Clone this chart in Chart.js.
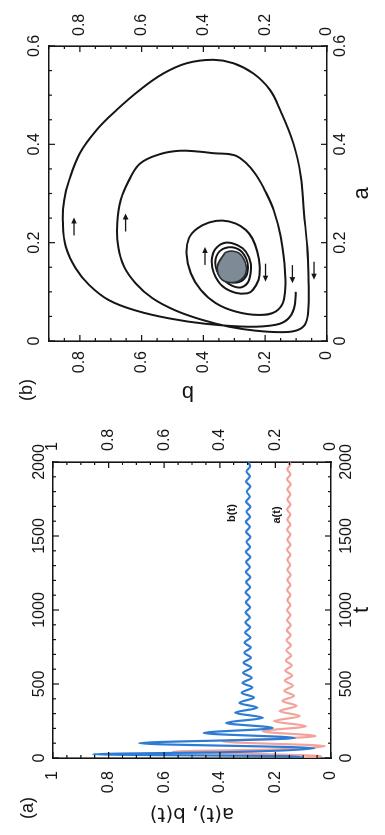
<!DOCTYPE html>
<html>
<head>
<meta charset="utf-8">
<script src="https://cdn.jsdelivr.net/npm/chart.js@4.4.1/dist/chart.umd.min.js"></script>
<style>
  html, body { margin:0; padding:0; background:#fff; width:385px; height:835px; overflow:hidden; }
  #wrap { position:absolute; left:0; top:0; width:835px; height:385px; transform-origin:0 0; transform:translate(0,835px) rotate(-90deg); background:#fff; }
  #ca { position:absolute; left:0; top:0; }
  #cb { position:absolute; left:420px; top:0; }
</style>
</head>
<body>
<div id="wrap">
  <canvas id="ca" width="420" height="385"></canvas>
  <canvas id="cb" width="415" height="385"></canvas>
</div>
<script>
// ---------- tick labels ----------
const tTickLabels  = ['0','500','1000','1500','2000'];
const abTickLabels = ['0','0.2','0.4','0.6','0.8','1'];
const aAxisLabels  = ['0','0.2','0.4','0.6'];
const bAxisLabels  = ['0','0.2','0.4','0.6','0.8'];

// ---------- panel (a): time series ----------
const bTime  = [0,12,25,40,66,100,135,169,203,237,272,306,340,372,409,440,477,507,542,576,610,644,678,712,746,780,814,848,882,916,950,984,1018,1052,1086,1120,1154,1188,1222,1256,1290,1324,1358,1392,1426,1460,1494,1528,1562,1596,1630,1664,1698,1732,1766,1800,1834,1868,1902,1936,1970,2000];
const bValue = [0.10,0.16,0.856,0.36,0.06,0.69,0.13,0.458,0.21,0.377,0.245,0.345,0.265,0.33,0.277,0.322,0.283,0.318,0.285,0.316,0.287,0.314,0.288,0.312,0.289,0.311,0.29,0.309,0.291,0.308,0.292,0.307,0.291,0.306,0.292,0.307,0.291,0.305,0.290,0.306,0.292,0.305,0.29,0.306,0.291,0.304,0.290,0.305,0.292,0.306,0.291,0.304,0.290,0.305,0.292,0.303,0.290,0.305,0.292,0.304,0.291,0.298];
const aTime  = [0,12,25,43,58,80,112,148,180,215,249,283,317,352,386,420,454,489,523,557,591,625,659,693,727,761,795,829,863,897,931,965,999,1033,1067,1101,1135,1169,1203,1237,1271,1305,1339,1373,1407,1441,1475,1509,1543,1577,1611,1645,1679,1713,1747,1781,1815,1849,1883,1917,1951,1985,2000];
const aValue = [0.10,0.035,0.22,0.568,0.2,0.022,0.39,0.055,0.245,0.09,0.205,0.112,0.185,0.124,0.175,0.133,0.168,0.137,0.166,0.140,0.164,0.141,0.162,0.143,0.161,0.144,0.160,0.145,0.159,0.145,0.158,0.146,0.158,0.146,0.157,0.146,0.158,0.146,0.157,0.145,0.157,0.147,0.157,0.146,0.158,0.146,0.157,0.146,0.158,0.146,0.157,0.146,0.158,0.146,0.157,0.146,0.157,0.145,0.158,0.146,0.157,0.146,0.151];
const seriesLabelText = ['b(t)','a(t)'];
const seriesLabelT    = [1655,1642];
const seriesLabelV    = [0.356,0.195];

// ---------- panel (b): phase plane trajectory ----------
const phaseA = [0.100,0.066,0.044,0.033,0.029,0.035,0.046,0.062,0.083,0.114,0.148,0.192,0.239,0.287,0.327,0.382,0.429,0.470,0.511,0.544,0.565,0.572,0.565,0.544,0.511,0.470,0.402,0.335,0.260,0.192,0.124,0.070,0.036,0.022,0.018,0.021,
  0.029,0.043,0.062,0.087,0.117,0.151,0.192,0.239,0.287,0.327,0.361,0.380,0.387,0.385,0.382,0.378,0.362,0.338,0.305,0.265,0.212,0.140,0.085,0.060,0.053,
  0.060,0.077,0.104,0.138,0.178,0.209,0.229,0.241,0.245,0.239,0.226,0.209,0.182,0.151,0.124,0.104,0.097,
  0.098,0.112,0.138,0.165,0.188,0.200,0.195,0.182,0.158,0.131,0.114,0.109,
  0.121,0.144,0.172,0.189,0.187,0.168,0.141,0.122,0.120,0.132];
const phaseB = [0.101,0.107,0.128,0.166,0.253,0.393,0.511,0.619,0.706,0.770,0.814,0.846,0.855,0.851,0.835,0.800,0.746,0.681,0.605,0.530,0.454,0.368,0.303,0.238,0.185,0.152,0.109,0.085,0.0745,0.064,0.060,0.060,0.069,0.096,0.145,0.231,
  0.317,0.404,0.490,0.565,0.619,0.657,0.676,0.679,0.668,0.641,0.605,0.541,0.476,0.411,0.368,0.300,0.262,0.230,0.200,0.172,0.150,0.136,0.139,0.166,0.220,
  0.296,0.360,0.409,0.441,0.455,0.447,0.420,0.382,0.339,0.296,0.263,0.242,0.226,0.218,0.222,0.240,0.258,
  0.296,0.339,0.366,0.373,0.360,0.328,0.290,0.263,0.247,0.249,0.263,0.290,
  0.328,0.357,0.358,0.330,0.288,0.262,0.257,0.277,0.315,0.342];
const blobA = [0.180,0.183,0.178,0.160,0.140,0.124,0.119,0.128,0.152,0.180];
const blobB = [0.330,0.310,0.283,0.265,0.262,0.280,0.315,0.345,0.355,0.330];
const arrowA   = [0.233,0.241,0.173,0.139,0.136,0.143];
const arrowB   = [0.819,0.652,0.395,0.199,0.112,0.042];
const arrowDir = [1,1,1,-1,-1,-1];

// ---------- helpers ----------
const pts = (xs, ys) => xs.map((x, i) => ({x: x, y: ys[i]}));
const FAMILY = '"Liberation Sans", Arial, sans-serif';
const TICK_FONT = {family:FAMILY, size:16};
const INK = '#151515';

function axis(pos, min, max, labels, size, pad, title) {
  const vals = labels.map(parseFloat);
  const horiz = (pos === 'top' || pos === 'bottom');
  return {
    type:'linear', position:pos, min:min, max:max,
    grid:{display:false, drawTicks:false},
    border:{display:true, color:INK, width:1.6},
    ticks:{autoSkip:false, maxRotation:0, minRotation:0, padding:pad, color:INK, font:TICK_FONT,
      callback:(v) => { const i = vals.findIndex(t => Math.abs(t - v) < 1e-9); return i >= 0 ? labels[i] : ''; }},
    afterBuildTicks:(s) => { s.ticks = vals.map(v => ({value:v})); },
    afterFit:(s) => { if (horiz) s.height = size; else s.width = size; },
    title: title || {display:false}
  };
}

const inwardTicks = {
  id:'inwardTicks',
  afterDatasetsDraw(chart, args, o) {
    const {ctx, chartArea:ca, scales} = chart;
    ctx.save();
    ctx.strokeStyle = INK; ctx.lineWidth = 1.2;
    const run = (scale, step, major, horiz) => {
      const n = Math.round((scale.max - scale.min) / step);
      for (let i = 0; i <= n; i++) {
        const v = scale.min + i * step;
        const r = v / major;
        const len = Math.abs(r - Math.round(r)) < 1e-6 ? 6 : 3;
        const p = scale.getPixelForValue(v);
        ctx.beginPath();
        if (horiz) {
          ctx.moveTo(p, ca.bottom); ctx.lineTo(p, ca.bottom - len);
          ctx.moveTo(p, ca.top); ctx.lineTo(p, ca.top + len);
        } else {
          ctx.moveTo(ca.left, p); ctx.lineTo(ca.left + len, p);
          ctx.moveTo(ca.right, p); ctx.lineTo(ca.right - len, p);
        }
        ctx.stroke();
      }
    };
    run(scales.x, o.x[0], o.x[1], true);
    run(scales.y, o.y[0], o.y[1], false);
    ctx.restore();
  }
};

const notes = {
  id:'notes',
  afterDraw(chart, args, o) {
    const {ctx, scales} = chart;
    ctx.save();
    ctx.fillStyle = INK;
    ctx.textAlign = 'center'; ctx.textBaseline = 'middle';
    if (o.panel) {
      ctx.font = '18px ' + FAMILY;
      ctx.fillText(o.panel.text, o.panel.x, o.panel.y);
    }
    if (o.labels) {
      ctx.font = 'bold 11px ' + FAMILY;
      o.labels.text.forEach((t, i) => {
        ctx.fillText(t, scales.x.getPixelForValue(o.labels.x[i]), scales.y.getPixelForValue(o.labels.y[i]));
      });
    }
    if (o.arrows) {
      ctx.strokeStyle = INK; ctx.lineWidth = 1.3;
      o.arrows.a.forEach((a, i) => {
        const cx = scales.x.getPixelForValue(a), cy = scales.y.getPixelForValue(o.arrows.b[i]);
        const d = o.arrows.dir[i], half = 9;
        const tip = cx + d * half;
        ctx.beginPath(); ctx.moveTo(cx - d * half, cy); ctx.lineTo(tip - d * 3, cy); ctx.stroke();
        ctx.beginPath(); ctx.moveTo(tip, cy); ctx.lineTo(tip - d * 6, cy - 2.8); ctx.lineTo(tip - d * 6, cy + 2.8); ctx.closePath(); ctx.fill();
      });
    }
    ctx.restore();
  }
};

Chart.register(inwardTicks, notes);

// ---------- chart (a) ----------
new Chart(document.getElementById('ca'), {
  type:'scatter',
  data:{datasets:[
    {label:'b(t)', data:pts(bTime, bValue), showLine:true, borderColor:'#2c7cd5', borderWidth:2.2, pointRadius:0, cubicInterpolationMode:'monotone'},
    {label:'a(t)', data:pts(aTime, aValue), showLine:true, borderColor:'#f3a39c', borderWidth:2.2, pointRadius:0, cubicInterpolationMode:'monotone'}
  ]},
  options:{
    responsive:false, animation:false, devicePixelRatio:1,
    layout:{padding:0},
    scales:{
      x: axis('bottom', 0, 2000, tTickLabels, 54, 6, {display:true, text:'t', color:INK, font:{family:FAMILY, size:22}, padding:{top:0, bottom:10}}),
      x2: axis('top', 0, 2000, tTickLabels, 53, 4),
      y: axis('left', 0, 1, abTickLabels, 77, 13, {display:true, text:'a(t), b(t)', color:INK, font:{family:'"DejaVu Sans", sans-serif', size:20}, padding:{top:10, bottom:0}}),
      y2: axis('right', 0, 1, abTickLabels, 47, 11)
    },
    plugins:{
      legend:{display:false}, tooltip:{enabled:false},
      inwardTicks:{x:[100,500], y:[0.05,0.2]},
      notes:{panel:{text:'(a)', x:27, y:28}, labels:{text:seriesLabelText, x:seriesLabelT, y:seriesLabelV}}
    }
  }
});

// ---------- chart (b) ----------
new Chart(document.getElementById('cb'), {
  type:'scatter',
  data:{datasets:[
    {label:'blob', data:pts(blobA, blobB), showLine:true, borderColor:'#2a2d31', backgroundColor:'#7f8a97', fill:'shape', borderWidth:1.6, pointRadius:0, tension:0.4},
    {label:'trajectory', data:pts(phaseA, phaseB), showLine:true, borderColor:INK, borderWidth:2, pointRadius:0, tension:0.4}
  ]},
  options:{
    responsive:false, animation:false, devicePixelRatio:1,
    layout:{padding:0},
    scales:{
      x: axis('bottom', 0, 0.6, aAxisLabels, 58, 4, {display:true, text:'a', color:INK, font:{family:FAMILY, size:22}, padding:{top:0, bottom:10}}),
      x2: axis('top', 0, 0.6, aAxisLabels, 49, 5),
      y: axis('left', 0, 0.9, bAxisLabels, 74, 10, {display:true, text:'b', color:INK, font:{family:FAMILY, size:22}, padding:{top:10, bottom:0}}),
      y2: axis('right', 0, 0.9, bAxisLabels, 46, 10)
    },
    plugins:{
      legend:{display:false}, tooltip:{enabled:false},
      inwardTicks:{x:[0.05,0.2], y:[0.05,0.2]},
      notes:{panel:{text:'(b)', x:25, y:27}, arrows:{a:arrowA, b:arrowB, dir:arrowDir}}
    }
  }
});
</script>
</body>
</html>
